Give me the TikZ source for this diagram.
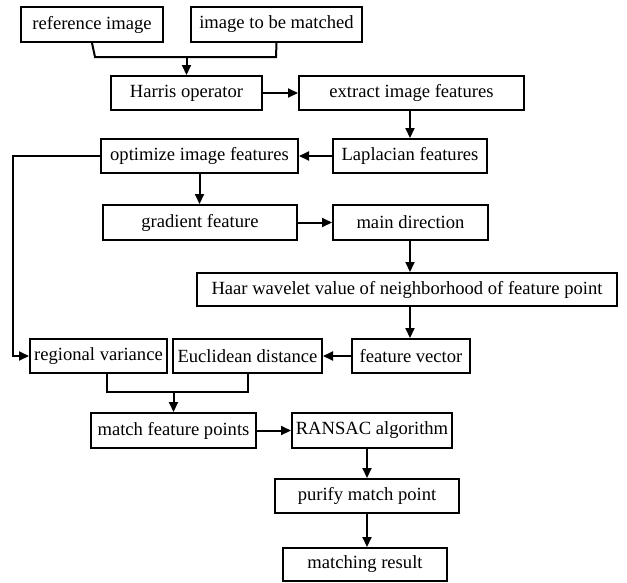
\documentclass[tikz,border=0pt]{standalone}
\usepackage{fontspec}
\setmainfont{Liberation Serif}
\usetikzlibrary{arrows.meta,calc}
\tikzset{
  box/.style={draw=black, line width=2pt, inner sep=0pt, anchor=center,
    font=\fontsize{18.6}{22}\selectfont},
  conn/.style={line width=2pt, -{Triangle[length=10pt,width=9pt]}},
  plain/.style={line width=2pt}
}
\newcommand{\mybox}[6]{%
  \node[box, minimum width={(#4-#2)*1pt}, minimum height={(#5-#3)*1pt}]
    (#1) at ({(#2+#4)/2},{(#3+#5)/2}) {#6};}
\begin{document}
\begin{tikzpicture}[x=1pt,y=-1pt]
\useasboundingbox (0,0) rectangle (627,582);
\mybox{ref}{21}{7}{163}{42}{reference image}
\mybox{img}{191}{7}{362}{42}{image to be matched}
\mybox{harris}{111}{76}{262}{110}{Harris operator}
\mybox{extract}{299}{76}{524}{110}{extract image features}
\mybox{lap}{333}{139}{487}{173}{Laplacian features}
\mybox{opt}{101}{139}{298}{173}{optimize image features}
\mybox{grad}{103}{205}{297}{240}{gradient feature}
\mybox{main}{333}{205}{488}{240}{main direction}
\mybox{haar}{197}{273}{617}{306}{Haar wavelet value of neighborhood of feature point}
\mybox{fv}{352}{339}{470}{373}{feature vector}
\mybox{euc}{173}{339}{322}{373}{Euclidean distance}
\mybox{reg}{30}{339}{167}{373}{regional variance}
\mybox{mfp}{91}{413}{256}{448}{match feature points}
\mybox{ransac}{292}{413}{452}{448}{RANSAC algorithm}
\mybox{purify}{275}{479}{459}{513}{purify match point}
\mybox{result}{283}{548}{447}{581}{matching result}
% merge of the two inputs
\coordinate (m1) at (95,57);
\coordinate (m2) at (276,57);
\draw[plain] (ref.south) -- (m1) -- (m2) -- (img.south);
\draw[conn] (m1 -| harris.north) -- (harris.north);
\draw[conn] (harris.east) -- (harris.east -| extract.west);
\draw[conn] (extract.south -| lap.north) -- (lap.north);
\draw[conn] (lap.west) -- (opt.east);
\coordinate (loop) at (13,156);
\draw[conn] (opt.west) -- (loop) -- (loop |- reg.west) -- (reg.west);
\draw[conn] (opt.south) -- (opt.south |- grad.north);
\draw[conn] (grad.east) -- (grad.east -| main.west);
\coordinate (vx) at (410,0);
\draw[conn] (main.south -| vx) -- (haar.north -| vx);
\draw[conn] (haar.south -| vx) -- (fv.north -| vx);
\draw[conn] (fv.west) -- (euc.east);
% merge of regional variance and Euclidean distance
\coordinate (b1) at (107,392);
\coordinate (b2) at (euc.south |- b1);
\draw[plain] (reg.south -| b1) -- (b1) -- (b2) -- (euc.south);
\draw[conn] (b1 -| mfp.north) -- (mfp.north);
\draw[conn] (mfp.east) -- (mfp.east -| ransac.west);
\draw[conn] (ransac.south -| purify.north) -- (purify.north);
\draw[conn] (purify.south) -- (purify.south |- result.north);
\end{tikzpicture}
\end{document}
